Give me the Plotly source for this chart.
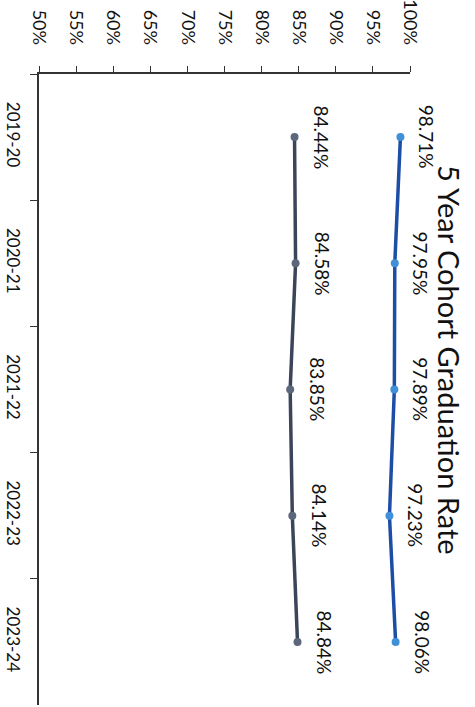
import plotly.graph_objects as go

years = ["2019-20", "2020-21", "2021-22", "2022-23", "2023-24"]
school_rate = [98.71, 97.95, 97.89, 97.23, 98.06]
state_rate = [84.44, 84.58, 83.85, 84.14, 84.84]
value_ticks = [50, 55, 60, 65, 70, 75, 80, 85, 90, 95, 100]
title_text = "5 Year Cohort Graduation Rate"

FONT = "Lato"

fig = go.Figure()
fig.add_trace(go.Scatter(
    x=state_rate, y=years, mode="lines+markers",
    line=dict(color="#3b4459", width=3.5),
    marker=dict(color="#5d677b", size=8),
    showlegend=False, hoverinfo="skip"))
fig.add_trace(go.Scatter(
    x=school_rate, y=years, mode="lines+markers",
    line=dict(color="#1c4ea6", width=3.5),
    marker=dict(color="#3f8fd9", size=8),
    showlegend=False, hoverinfo="skip"))

annotations = []
for y, v in zip(years, school_rate):
    annotations.append(dict(x=v, y=y, xref="x", yref="y", text=f"{v:g}%",
                            textangle=90, showarrow=False, xshift=26,
                            font=dict(family=FONT, size=19, color="#111")))
for y, v in zip(years, state_rate):
    annotations.append(dict(x=v, y=y, xref="x", yref="y", text=f"{v:g}%",
                            textangle=90, showarrow=False, xshift=27,
                            font=dict(family=FONT, size=19, color="#111")))
annotations.append(dict(x=1.105, y=0.547, xref="paper", yref="paper",
                        xanchor="center", yanchor="middle",
                        text=title_text, textangle=90, showarrow=False,
                        font=dict(family=FONT, size=29, color="#111")))

fig.update_layout(
    width=475, height=707,
    margin=dict(l=39, r=65, t=74, b=2),
    paper_bgcolor="white", plot_bgcolor="white",
    annotations=annotations,
    xaxis=dict(range=[50, 100], side="top", tickvals=value_ticks,
               ticktext=[f"{t}%" for t in value_ticks], tickangle=90,
               ticks="outside", ticklen=6, tickcolor="#333", automargin=False,
               ticklabelstandoff=15,
               showline=True, linecolor="#333", linewidth=1.5,
               showgrid=False, zeroline=False,
               tickfont=dict(family=FONT, size=18, color="#111")),
    yaxis=dict(type="category", categoryorder="array", categoryarray=years,
               range=[4.5, -0.5], tickangle=90, tickson="boundaries",
               ticks="outside", ticklen=7, tickcolor="#333", automargin=False,
               ticklabelstandoff=10,
               showline=True, linecolor="#333", linewidth=1.5,
               showgrid=False, zeroline=False,
               tickfont=dict(family=FONT, size=17, color="#111")),
)

# remove the browser's default 8px body margin so the figure fills the window
fig.write_html("out.html", config={"displayModeBar": False},
               post_script="document.body.style.margin='0';document.body.style.overflow='hidden';")
